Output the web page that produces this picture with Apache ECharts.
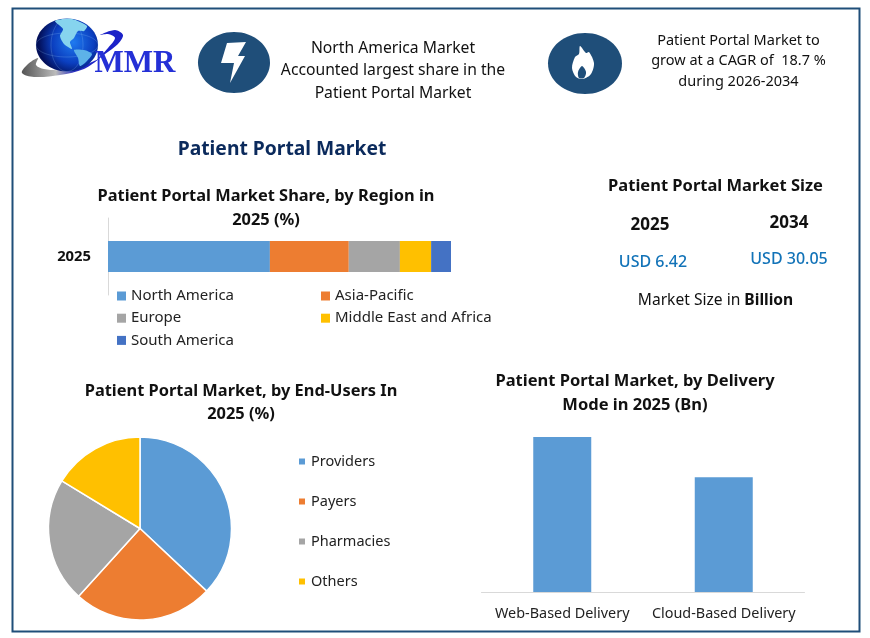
<!DOCTYPE html>
<html><head><meta charset="utf-8">
<style>html,body{margin:0;padding:0;background:#fff}#c{width:870px;height:638px}</style>
<script src="https://cdn.jsdelivr.net/npm/echarts@6/dist/echarts.min.js"></script>
</head><body><div id="c"></div>
<script>
const regionYear = ['2025'];
const regionNames = ['North America','Asia-Pacific','Europe','Middle East and Africa','South America'];
const regionShares = [47.2,23.0,14.9,9.1,5.8];
const regionColors = ['#5B9BD5','#ED7D31','#A5A5A5','#FFC000','#4472C4'];
const endUserNames = ['Providers','Payers','Pharmacies','Others'];
const endUserShares = [37,24.7,22,16.3];
const deliveryNames = ['Web-Based Delivery','Cloud-Based Delivery'];
const deliveryValues = [3.69,2.73];

const FONT = '"Noto Sans","Open Sans",sans-serif';
const INK = '#111';
function txt(s,x,y,size,bold,color,weight){
  return {type:'text',x:x,y:y,silent:true,style:{text:s,x:0,y:0,align:'center',verticalAlign:'middle',
    fontFamily:FONT,fontSize:size,fontWeight:weight||(bold?'bold':'normal'),fill:color||INK}};
}
const graphics = [
  {type:'rect',z:-1,shape:{x:12.5,y:8.5,width:847,height:623},style:{fill:'#fff',stroke:'#1F4E79',lineWidth:2}},
  // logo swoosh
  {type:'polygon',shape:{smooth:0.35,points:[[22,73],[27,65],[38,58],[36,65],[44,69],[62,70],[80,67],[97,60],[84,69],[60,75],[34,77]]},
    style:{fill:{type:'linear',x:0,y:0,x2:1,y2:0,colorStops:[{offset:0,color:'#555'},{offset:.45,color:'#bbb'},{offset:.7,color:'#2a2fc0'},{offset:1,color:'#1c22c8'}]}}},
  // logo globe
  {type:'ellipse',shape:{cx:67,cy:45,rx:31,ry:26.5},
    style:{fill:{type:'radial',x:.6,y:.45,r:.65,colorStops:[{offset:0,color:'#1f7bf0'},{offset:.6,color:'#0b3fc0'},{offset:1,color:'#03105a'}]}}},
  {type:'ellipse',shape:{cx:67,cy:45,rx:16,ry:26.5},style:{fill:'none',stroke:'rgba(160,210,255,.3)',lineWidth:.7}},
  {type:'ellipse',shape:{cx:67,cy:45,rx:31,ry:12},style:{fill:'none',stroke:'rgba(160,210,255,.3)',lineWidth:.7}},
  {type:'polygon',shape:{smooth:0.25,points:[[55,21],[72,19],[87,26],[84,31],[78,31],[74,38],[70,42],[72,49],[64,44],[60,36],[63,29]]},style:{fill:'#86d4ee'}},
  {type:'polygon',shape:{smooth:0.25,points:[[74,50],[84,50],[92,54],[86,62],[80,66],[78,58]]},style:{fill:'#5db2e8'}},
  // logo "2" swoosh
  {type:'polygon',shape:{smooth:0.3,points:[[100,35],[115,30],[123,35],[118,44],[105,54],[95,62],[108,48],[115,38],[108,34]]},style:{fill:'#1c22c8'}},
  {type:'text',x:135,y:63.5,silent:true,style:{text:'MMR',x:0,y:0,align:'center',verticalAlign:'middle',
    fontFamily:'"Liberation Serif",serif',fontWeight:'bold',fontSize:31,fill:'#2430d6'}},
  // bolt badge
  {type:'ellipse',shape:{cx:234,cy:62.5,rx:36,ry:30.5},style:{fill:'#1F4E79'}},
  {type:'polygon',shape:{points:[[227,43],[246,42],[238,56],[245,56],[230,83],[234,63],[221,63]]},style:{fill:'#fff'}},
  // flame badge
  {type:'ellipse',shape:{cx:585,cy:63.5,rx:37,ry:30.5},style:{fill:'#1F4E79'}},
  {type:'polygon',shape:{smooth:0.3,points:[[580,46],[586,53],[589,52],[594,63],[591,74],[583,79],[576,77],[572,68],[575,57],[579,54]]},style:{fill:'#fff'}},
  {type:'polygon',shape:{smooth:0.3,points:[[582,66],[586,72],[584,78],[579,78],[578,72]]},style:{fill:'#1F4E79'}},
  // header callouts
  txt('North America Market',393,48.5,15.7),
  txt('Accounted largest share in the',393,71,15.7),
  txt('Patient Portal Market',393,93.5,15.7),
  txt('Patient Portal Market to',738.5,40.5,14.5),
  txt('grow at a CAGR of  18.7 %',738.5,61,14.5),
  txt('during 2026-2034',738.5,82,14.5),
  txt('Patient Portal Market',282,149.5,19.3,true,'#0B2A5C'),
  // chart headings
  txt('Patient Portal Market Share, by Region in',266,196,16.4,true),
  txt('2025 (%)',266,220,16.4,true),
  txt('Patient Portal Market, by End-Users In',241,391,16.4,true),
  txt('2025 (%)',241,414,16.4,true),
  txt('Patient Portal Market, by Delivery',635,381,16.5,true),
  txt('Mode in 2025 (Bn)',635,405,16.5,true),
  // market size panel
  txt('Patient Portal Market Size',715.5,186,16.5,true),
  txt('2025',650,225,17,true),
  txt('2034',789,223,17,true),
  txt('USD 6.42',653,262,16,false,'#1273B8',500),
  txt('USD 30.05',789,259,16,false,'#1273B8',500),
  {type:'text',x:715.5,y:301,silent:true,style:{align:'center',verticalAlign:'middle',x:0,y:0,fontFamily:FONT,fontSize:15.6,fill:INK,
    text:'Market Size in {b|Billion}',rich:{b:{fontFamily:FONT,fontSize:15.6,fontWeight:'bold',fill:INK}}}}
];

const regionSeries = regionNames.map((n,i)=>({
  name:n,type:'bar',stack:'r',xAxisIndex:0,yAxisIndex:0,barWidth:31,
  itemStyle:{color:regionColors[i]},data:[regionShares[i]]
}));
const legendText = {fontFamily:FONT,fontSize:15,color:'#222'};
const option = {
  animation:false,backgroundColor:'#fff',
  grid:[
    {left:108,top:218,width:343,height:77},
    {left:481.5,top:437,width:323,height:155}
  ],
  xAxis:[
    {gridIndex:0,type:'value',min:0,max:100,show:false},
    {gridIndex:1,type:'category',data:deliveryNames,
      axisLine:{lineStyle:{color:'#D9D9D9',width:1}},axisTick:{show:false},
      axisLabel:{fontFamily:FONT,fontSize:14.4,color:'#222',margin:15,interval:0}}
  ],
  yAxis:[
    {gridIndex:0,type:'category',data:regionYear,
      axisLine:{show:true,lineStyle:{color:'#D9D9D9',width:1}},axisTick:{show:false},
      axisLabel:{fontFamily:FONT,fontSize:14.8,fontWeight:'bold',color:'#111',margin:17}},
    {gridIndex:1,type:'value',min:0,max:deliveryValues[0],show:false}
  ],
  legend:[
    {left:117,top:288.5,padding:0,orient:'vertical',itemWidth:9,itemHeight:9,itemGap:7.2,icon:'rect',selectedMode:false,
      data:[regionNames[0],regionNames[2],regionNames[4]],textStyle:legendText},
    {left:321,top:288.5,padding:0,orient:'vertical',itemWidth:9,itemHeight:9,itemGap:7.2,icon:'rect',selectedMode:false,
      data:[regionNames[1],regionNames[3]],textStyle:legendText},
    {left:297,top:454,padding:0,orient:'vertical',itemWidth:8,itemHeight:8,itemGap:25,icon:'rect',selectedMode:false,
      data:endUserNames,textStyle:{fontFamily:FONT,fontSize:14.5,color:'#222'}}
  ],
  series:regionSeries.concat([
    {type:'pie',center:[140,528.5],radius:[0,91.5],startAngle:90,clockwise:true,
      label:{show:false},labelLine:{show:false},silent:true,
      itemStyle:{borderColor:'#fff',borderWidth:1.5},
      data:endUserNames.map((n,i)=>({name:n,value:endUserShares[i],itemStyle:{color:regionColors[i]}}))},
    {type:'bar',xAxisIndex:1,yAxisIndex:1,barWidth:58,itemStyle:{color:'#5B9BD5'},data:deliveryValues}
  ]),
  graphic:{elements:graphics}
};
echarts.init(document.getElementById('c'),null,{renderer:'canvas'}).setOption(option);
</script></body></html>
